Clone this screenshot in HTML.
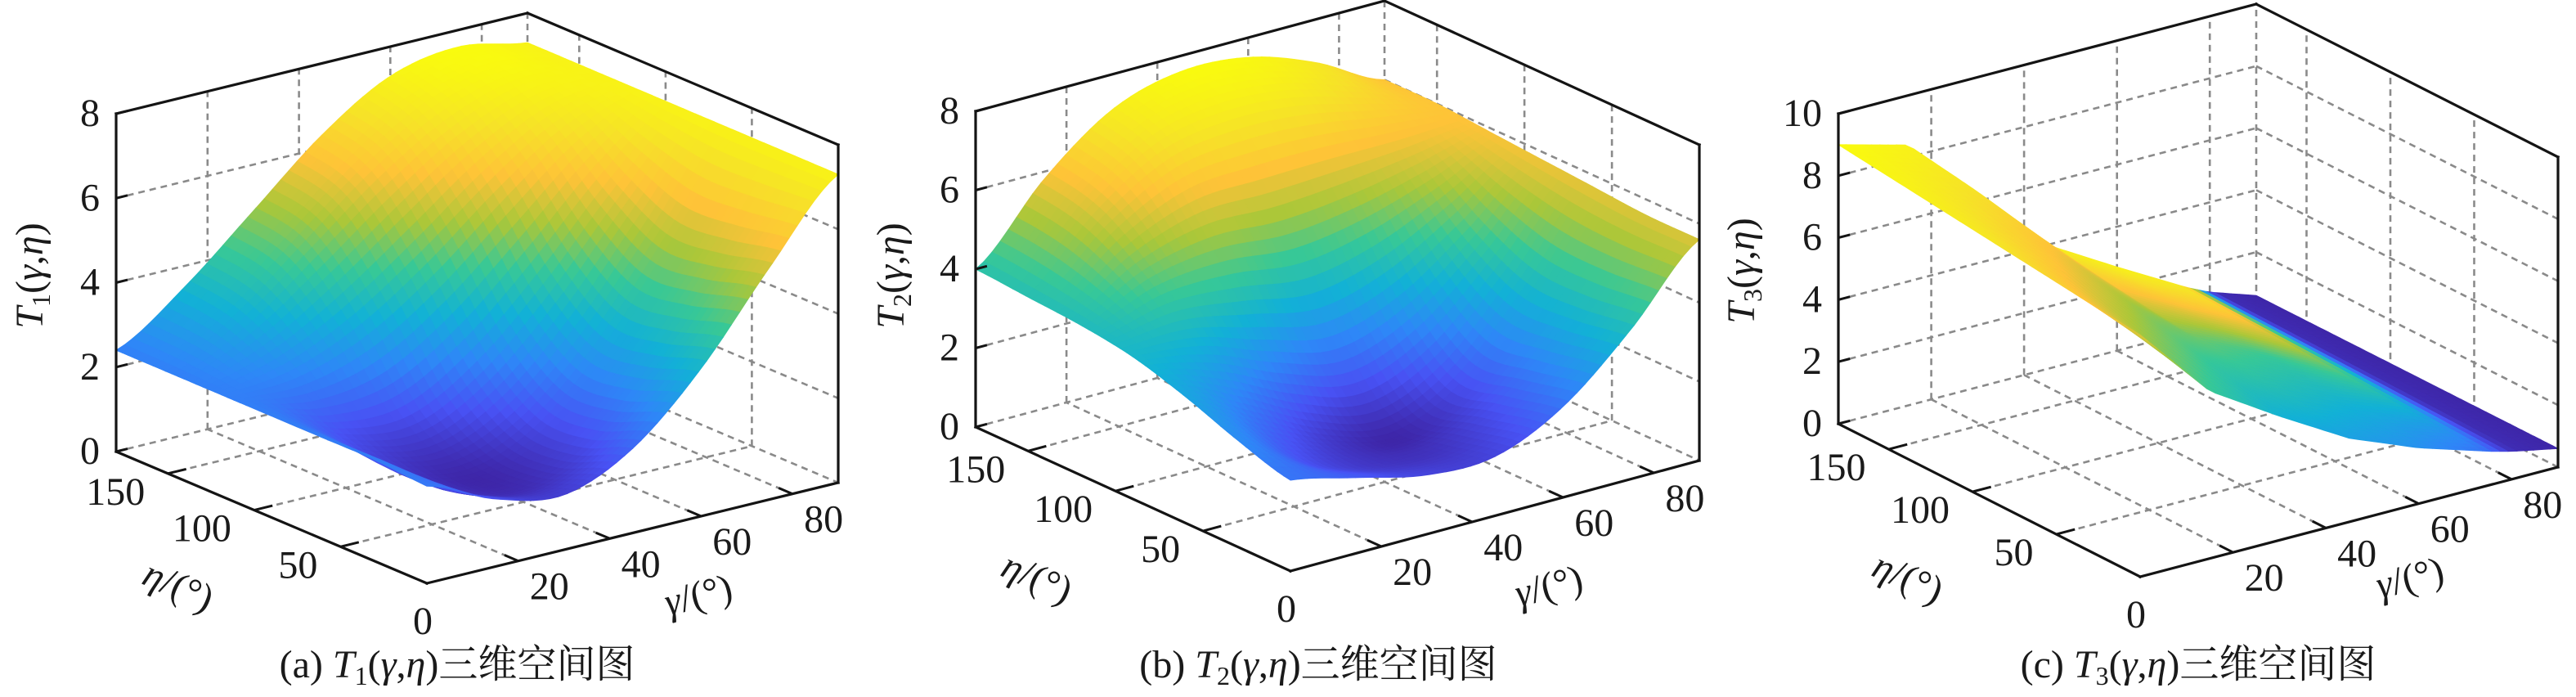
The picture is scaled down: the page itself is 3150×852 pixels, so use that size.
<!DOCTYPE html>
<html>
<head>
<meta charset="utf-8">
<style>
  html, body { margin: 0; padding: 0; background: #ffffff; }
  svg { display: block; }
  svg text { font-family: "Liberation Serif", "Noto Serif CJK SC", serif; fill: #1a1a1a; }
</style>
</head>
<body>
<svg id="chart" xmlns="http://www.w3.org/2000/svg" width="3150" height="852" viewBox="0 0 3150 852" font-family="'Liberation Serif', 'Noto Serif CJK SC', serif">
  <rect x="0" y="0" width="3150" height="852" fill="#ffffff"/>
</svg>
<script>
// ---------- data ----------
const etaTicks = [0, 50, 100, 150];
const gammaTicks = [20, 40, 60, 80];
const zTicksAB = [0, 2, 4, 6, 8];
const zTicksC = [0, 2, 4, 6, 8, 10];

// panel (a) T1 grid: eta rows, gamma columns
const etaGridA = [0, 30, 60, 90, 120, 150, 180];
const gammaGridA = [0, 15, 30, 45, 60, 75, 90];
const t1Eta0   = [2.3, 1.6, 1.3, 2.0, 3.5, 5.5, 7.3];
const t1Eta30  = [2.4, 1.3, 0.9, 1.5, 3.1, 5.2, 7.3];
const t1Eta60  = [2.4, 1.3, 0.9, 1.5, 3.0, 5.1, 7.3];
const t1Eta90  = [2.4, 1.7, 1.6, 2.5, 4.0, 5.8, 7.3];
const t1Eta120 = [2.4, 2.6, 3.3, 4.4, 5.7, 6.8, 7.3];
const t1Eta150 = [2.4, 3.3, 4.6, 5.9, 6.9, 7.4, 7.3];
const t1Eta180 = [2.4, 3.5, 4.9, 6.3, 7.3, 7.6, 7.3];

// panel (b) T2 grid
const etaGridB = [0, 30, 60, 90, 120, 150, 180];
const gammaGridB = [0, 15, 30, 45, 60, 75, 90];
const t2Eta0   = [2.3, 1.9, 1.5, 1.5, 2.3, 3.8, 5.6];
const t2Eta30  = [2.7, 1.7, 1.2, 1.2, 2.0, 3.6, 5.6];
const t2Eta60  = [3.2, 2.3, 1.4, 1.0, 1.8, 3.6, 5.7];
const t2Eta90  = [3.6, 3.4, 2.8, 2.4, 3.0, 4.3, 5.8];
const t2Eta120 = [3.8, 4.6, 4.9, 4.8, 5.0, 5.4, 5.9];
const t2Eta150 = [3.9, 5.5, 6.6, 6.9, 6.8, 6.4, 6.0];
const t2Eta180 = [4.0, 5.8, 7.1, 7.6, 7.5, 6.9, 6.0];

// panel (c) T3 grid (heights) and colour data
const etaGridC = [0, 90, 180];
const gammaGridC = [0, 15, 30, 45, 60, 75, 80, 90];
const t3Eta0   = [7.8, 5.4, 4.0, 2.7, 1.8, 1.1, 0.9, 0.6];
const t3Eta90  = [8.4, 7.0, 5.2, 3.4, 2.3, 1.3, 1.0, 0.6];
const t3Eta180 = [9.0, 8.4, 6.3, 4.0, 2.7, 1.45, 1.1, 0.6];
const c3Eta0   = [0.7, 0.5, 0.38, 0.33, 0.28, 0.2, 0.02, 0.0];
const c3Eta90  = [0.9, 0.75, 0.62, 0.55, 0.5, 0.55, 0.02, 0.0];
const c3Eta180 = [1.0, 0.95, 0.88, 0.92, 0.95, 0.9, 0.02, 0.0];

// ---------- helpers ----------
const NS = 'http://www.w3.org/2000/svg';
const svg = document.getElementById('chart');
const FONT = "'Liberation Serif', 'Noto Serif CJK SC', serif";
const parula = [[0,[62,38,168]],[0.125,[72,82,244]],[0.25,[46,135,247]],[0.375,[18,177,214]],
  [0.5,[55,200,151]],[0.625,[171,199,57]],[0.75,[254,195,56]],[0.875,[246,227,39]],[1,[249,251,14]]];
function cmap(t){
  t = Math.max(0, Math.min(1, t));
  for (let i = 1; i < parula.length; i++) {
    if (t <= parula[i][0]) {
      const a = parula[i-1], b = parula[i];
      const f = (t - a[0]) / (b[0] - a[0]);
      const c = a[1].map((v, k) => Math.round(v + (b[1][k] - v) * f));
      return 'rgb(' + c.join(',') + ')';
    }
  }
  return 'rgb(249,251,14)';
}
function el(tag, attrs, parent){
  const e = document.createElementNS(NS, tag);
  for (const k in attrs) e.setAttribute(k, attrs[k]);
  if (tag === 'text') e.setAttribute('font-family', FONT);
  (parent || svg).appendChild(e);
  return e;
}
function fracIndex(grid, v){
  for (let i = 1; i < grid.length; i++) {
    if (v <= grid[i]) return (i - 1) + (v - grid[i-1]) / (grid[i] - grid[i-1]);
  }
  return grid.length - 1;
}
function cubic1(arr, u, linear){
  const n = arr.length;
  const i = Math.min(Math.floor(u), n - 2);
  const t = u - i;
  if (linear) return arr[i] + (arr[i+1] - arr[i]) * t;
  const p0 = arr[Math.max(i-1,0)], p1 = arr[i], p2 = arr[i+1], p3 = arr[Math.min(i+2,n-1)];
  return 0.5*((2*p1) + (-p0+p2)*t + (2*p0-5*p1+4*p2-p3)*t*t + (-p0+3*p1-3*p2+p3)*t*t*t);
}
function sample(rows, etaGrid, gammaGrid, eta, gam, linear){
  const ui = fracIndex(gammaGrid, gam);
  const col = rows.map(r => cubic1(r, ui, linear));
  return cubic1(col, fracIndex(etaGrid, eta), linear);
}
function proj(P, eta, gam, z){
  return [P.F[0] + eta/180*(P.L[0]-P.F[0]) + gam/90*(P.R[0]-P.F[0]),
          P.F[1] + eta/180*(P.L[1]-P.F[1]) + gam/90*(P.R[1]-P.F[1]) - z*P.zpx];
}
function line(g, a, b, style){
  return el('line', Object.assign({x1:a[0].toFixed(1), y1:a[1].toFixed(1), x2:b[0].toFixed(1), y2:b[1].toFixed(1)}, style), g);
}
const dash = {stroke:'#8a8a8a', 'stroke-width':2.6, 'stroke-dasharray':'8 6', fill:'none'};
const solid = {stroke:'#141414', 'stroke-width':3.2, fill:'none', 'stroke-linecap':'square'};

function drawPanel(P){
  const g = el('g', {});
  
  
  const zmax = P.zTicks[P.zTicks.length-1];
  P.zpx = (P.L[1] - P.topY) / zmax;

  const grid = el('g', {}, g);
  
  
  gammaTicks.forEach(gt => {
    line(grid, proj(P,180,gt,0), proj(P,180,gt,zmax), dash);
    line(grid, proj(P,0,gt,0), proj(P,180,gt,0), dash);
  });
  P.zTicks.slice(0,-1).forEach(zt => {
    line(grid, proj(P,180,0,zt), proj(P,180,90,zt), dash);
    line(grid, proj(P,180,90,zt), proj(P,0,90,zt), dash);
  });
  etaTicks.filter(e => e > 0).forEach(et => {
    line(grid, proj(P,et,90,0), proj(P,et,90,zmax), dash);
    line(grid, proj(P,et,0,0), proj(P,et,90,0), dash);
  });
  line(grid, proj(P,180,90,0), proj(P,180,90,zmax), dash);

  const surf = el('g', {}, g);
  
  
  const N = 50, M = 50;
  const zs = [], cs = [];
  let zmin = Infinity, zmx = -Infinity;
  for (let i = 0; i <= N; i++) {
    zs.push([]); cs.push([]);
    for (let j = 0; j <= M; j++) {
      const eta = 180*i/N, gam = 90*j/M;
      const z = sample(P.rows, P.etaGrid, P.gammaGrid, eta, gam, P.linear);
      zs[i].push(z);
      if (P.colorRows) cs[i].push(sample(P.colorRows, P.etaGrid, P.gammaGrid, eta, gam, true));
      zmin = Math.min(zmin, z); zmx = Math.max(zmx, z);
    }
  }
  const quads = [];
  const dyE = P.F[1]-P.L[1], dyG = P.F[1]-P.R[1];
  for (let i = 0; i < N; i++) for (let j = 0; j < M; j++) {
    const e0 = 180*i/N, e1 = 180*(i+1)/N, g0 = 90*j/M, g1 = 90*(j+1)/M;
    const pts = [proj(P,e0,g0,zs[i][j]), proj(P,e1,g0,zs[i+1][j]), proj(P,e1,g1,zs[i+1][j+1]), proj(P,e0,g1,zs[i][j+1])];
    const zav = (zs[i][j]+zs[i+1][j]+zs[i+1][j+1]+zs[i][j+1])/4;
    let t;
    if (P.colorRows) t = (cs[i][j]+cs[i+1][j]+cs[i+1][j+1]+cs[i][j+1])/4;
    else t = (zav - zmin)/(zmx - zmin);
    const depth = dyE*((e0+e1)/360) + dyG*((g0+g1)/180);
    quads.push({pts, t, depth});
  }
  quads.sort((a,b) => b.depth - a.depth);
  quads.forEach(q => {
    const col = cmap(q.t);
    const p = el('polygon', {points: q.pts.map(p => p[0].toFixed(1)+','+p[1].toFixed(1)).join(' '),
      fill: col, stroke: col, 'stroke-width': 1}, surf);
    
    
  });

  const box = el('g', {}, g);
  
  
  line(box, proj(P,180,0,0), proj(P,180,0,zmax), solid);
  line(box, proj(P,180,0,zmax), proj(P,180,90,zmax), solid);
  line(box, proj(P,180,90,zmax), proj(P,0,90,zmax), solid);
  line(box, proj(P,0,90,zmax), proj(P,0,90,0), solid);
  line(box, proj(P,180,0,0), proj(P,0,0,0), solid);
  line(box, proj(P,0,0,0), proj(P,0,90,0), solid);

  const tk = {stroke:'#141414', 'stroke-width':3};
  P.zTicks.forEach(zt => {
    line(box, proj(P,180,0,zt), proj(P,180,2.5,zt), tk);
    const p = proj(P,180,0,zt);
    const t = el('text', {x:(p[0]-20).toFixed(1), y:(p[1]+15).toFixed(1), 'font-size':48, 'text-anchor':'end'}, g);
    t.textContent = zt;
    
    
  });
  etaTicks.forEach(et => {
    const p = proj(P,et,0,0);
    if (et > 0) line(box, p, proj(P,et,4,0), tk);
    const t = el('text', {'font-size':48}, g);
    if (et === 0) { t.setAttribute('x', (p[0]-5).toFixed(1)); t.setAttribute('y', (p[1]+62).toFixed(1)); t.setAttribute('text-anchor','middle'); }
    else { t.setAttribute('x', (p[0]-28).toFixed(1)); t.setAttribute('y', (p[1]+38).toFixed(1)); t.setAttribute('text-anchor','end'); }
    t.textContent = et;
    
    
  });
  gammaTicks.forEach(gt => {
    const p = proj(P,0,gt,0);
    line(box, p, proj(P,8,gt,0), tk);
    const t = el('text', {x:(p[0]+14).toFixed(1), y:(p[1]+47).toFixed(1), 'font-size':48, 'text-anchor':'start'}, g);
    t.textContent = gt;
    
    
  });

  const zt = el('text', {transform:'translate('+P.zTitle[0]+','+P.zTitle[1]+') rotate(-90)', 'font-size':48, 'text-anchor':'middle', y:15}, g);
  zt.innerHTML = '<tspan font-style="italic">T</tspan><tspan font-size="32" dy="9">'+P.sub+'</tspan><tspan dy="-9">(</tspan><tspan font-style="italic">γ</tspan>,<tspan font-style="italic">η</tspan>)';
  
  
  const et = el('text', {transform:'translate('+P.etaTitle[0]+','+P.etaTitle[1]+') rotate(24)', 'font-size':48, 'text-anchor':'middle', y:15}, g);
  et.innerHTML = '<tspan font-style="italic">η</tspan>/(°)';
  
  
  const gt2 = el('text', {transform:'translate('+P.gamTitle[0]+','+P.gamTitle[1]+') rotate(-14)', 'font-size':48, 'text-anchor':'middle', y:15}, g);
  gt2.innerHTML = '<tspan font-style="italic">γ</tspan>/(°)';
  
  
  const cap = el('text', {x:P.capX, y:828, 'font-size':48, 'text-anchor':'middle'}, g);
  cap.innerHTML = '('+P.letter+') <tspan font-style="italic">T</tspan><tspan font-size="32" dy="9">'+P.sub+'</tspan><tspan dy="-9">(</tspan><tspan font-style="italic">γ</tspan>,<tspan font-style="italic">η</tspan>)三维空间图';
  
  
}

drawPanel({name:'panel-a', surfName:'t1-surface', letter:'a', sub:'1',
  L:[142,552], F:[522,713], R:[1025,590], topY:139, zTicks:zTicksAB,
  etaGrid:etaGridA, gammaGrid:gammaGridA,
  rows:[t1Eta0,t1Eta30,t1Eta60,t1Eta90,t1Eta120,t1Eta150,t1Eta180],
  zTitle:[37,337], etaTitle:[218,717], gamTitle:[854,728], capX:559});
drawPanel({name:'panel-b', surfName:'t2-surface', letter:'b', sub:'2',
  L:[1193,522], F:[1578,698], R:[2078,563], topY:136, zTicks:zTicksAB,
  etaGrid:etaGridB, gammaGrid:gammaGridB,
  rows:[t2Eta0,t2Eta30,t2Eta60,t2Eta90,t2Eta120,t2Eta150,t2Eta180],
  zTitle:[1090,337], etaTitle:[1268,707], gamTitle:[1894,717], capX:1612});
drawPanel({name:'panel-c', surfName:'t3-surface', letter:'c', sub:'3', linear:true,
  L:[2248,518], F:[2617,705], R:[3128,571], topY:139, zTicks:zTicksC,
  etaGrid:etaGridC, gammaGrid:gammaGridC,
  rows:[t3Eta0,t3Eta90,t3Eta180], colorRows:[c3Eta0,c3Eta90,c3Eta180],
  zTitle:[2130,331], etaTitle:[2333,707], gamTitle:[2947,707], capX:2688});
</script>
</body>
</html>
